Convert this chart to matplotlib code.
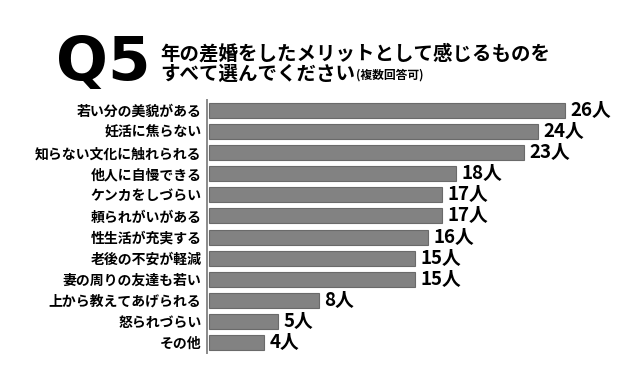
"""
年の差婚のメリット (Q5)
"""

import matplotlib.pyplot as plt

labels = ['若い分の美貌がある', '妊活に焦らない', '知らない文化に触れられる',
          '他人に自慢できる', 'ケンカをしづらい', '頼られがいがある',
          '性生活が充実する', '老後の不安が軽減', '妻の周りの友達も若い',
          '上から教えてあげられる', '怒られづらい', 'その他']
counts = [26, 24, 23, 18, 17, 17, 16, 15, 15, 8, 5, 4]

title1 = '年の差婚をしたメリットとして感じるものを'
title2 = 'すべて選んでください'
title_note = '(複数回答可)'

plt.rcParams['font.family'] = ['Noto Sans CJK JP', 'DejaVu Sans']

W, H = 640, 373
fig = plt.figure(figsize=(W/100, H/100), dpi=100)

#------------------------------------------------------------------------------
# bars

ax = fig.add_axes([207/W, 20/H, 413/W, 253/H])
y = range(len(labels))
ax.barh(y, counts, height=0.71, left=0.15, color='#828282',
        edgecolor='#6a6a6a', linewidth=0.8)
ax.set_xlim(0, 413/13.7)
ax.set_ylim(len(labels) - 0.5, -0.5)

for s in ['top', 'right', 'bottom']:
    ax.spines[s].set_visible(False)
ax.spines['left'].set_color('#8a8a8a')
ax.spines['left'].set_linewidth(1.4)
ax.set_xticks([])
ax.set_yticks(list(y))
ax.set_yticklabels(labels, fontsize=10, fontweight='bold')
ax.tick_params(axis='y', length=0, pad=4)

for i, c in enumerate(counts):
    ax.annotate(f'{c}人', (c + 0.15, i), xytext=(4, 0), textcoords='offset points',
                va='center', ha='left', fontsize=13.5, fontweight='bold')

#------------------------------------------------------------------------------
# title

fig.text(56/W, 1 - 80/H, 'Q5', fontsize=44, fontweight='heavy',
         family='DejaVu Sans', va='baseline', ha='left')
fig.text(160/W, 1 - 54/H, title1, fontsize=14, fontweight='bold', va='center')
t2 = fig.text(160/W, 1 - 74/H, title2, fontsize=14, fontweight='bold', va='center')
fig.add_artist(plt.Annotation(title_note, xy=(1, 0.12), xycoords=t2,
                              xytext=(1, 0), textcoords='offset points',
                              fontsize=8.5, fontweight='bold', va='bottom'))

fig.savefig('out.png', dpi=100)
